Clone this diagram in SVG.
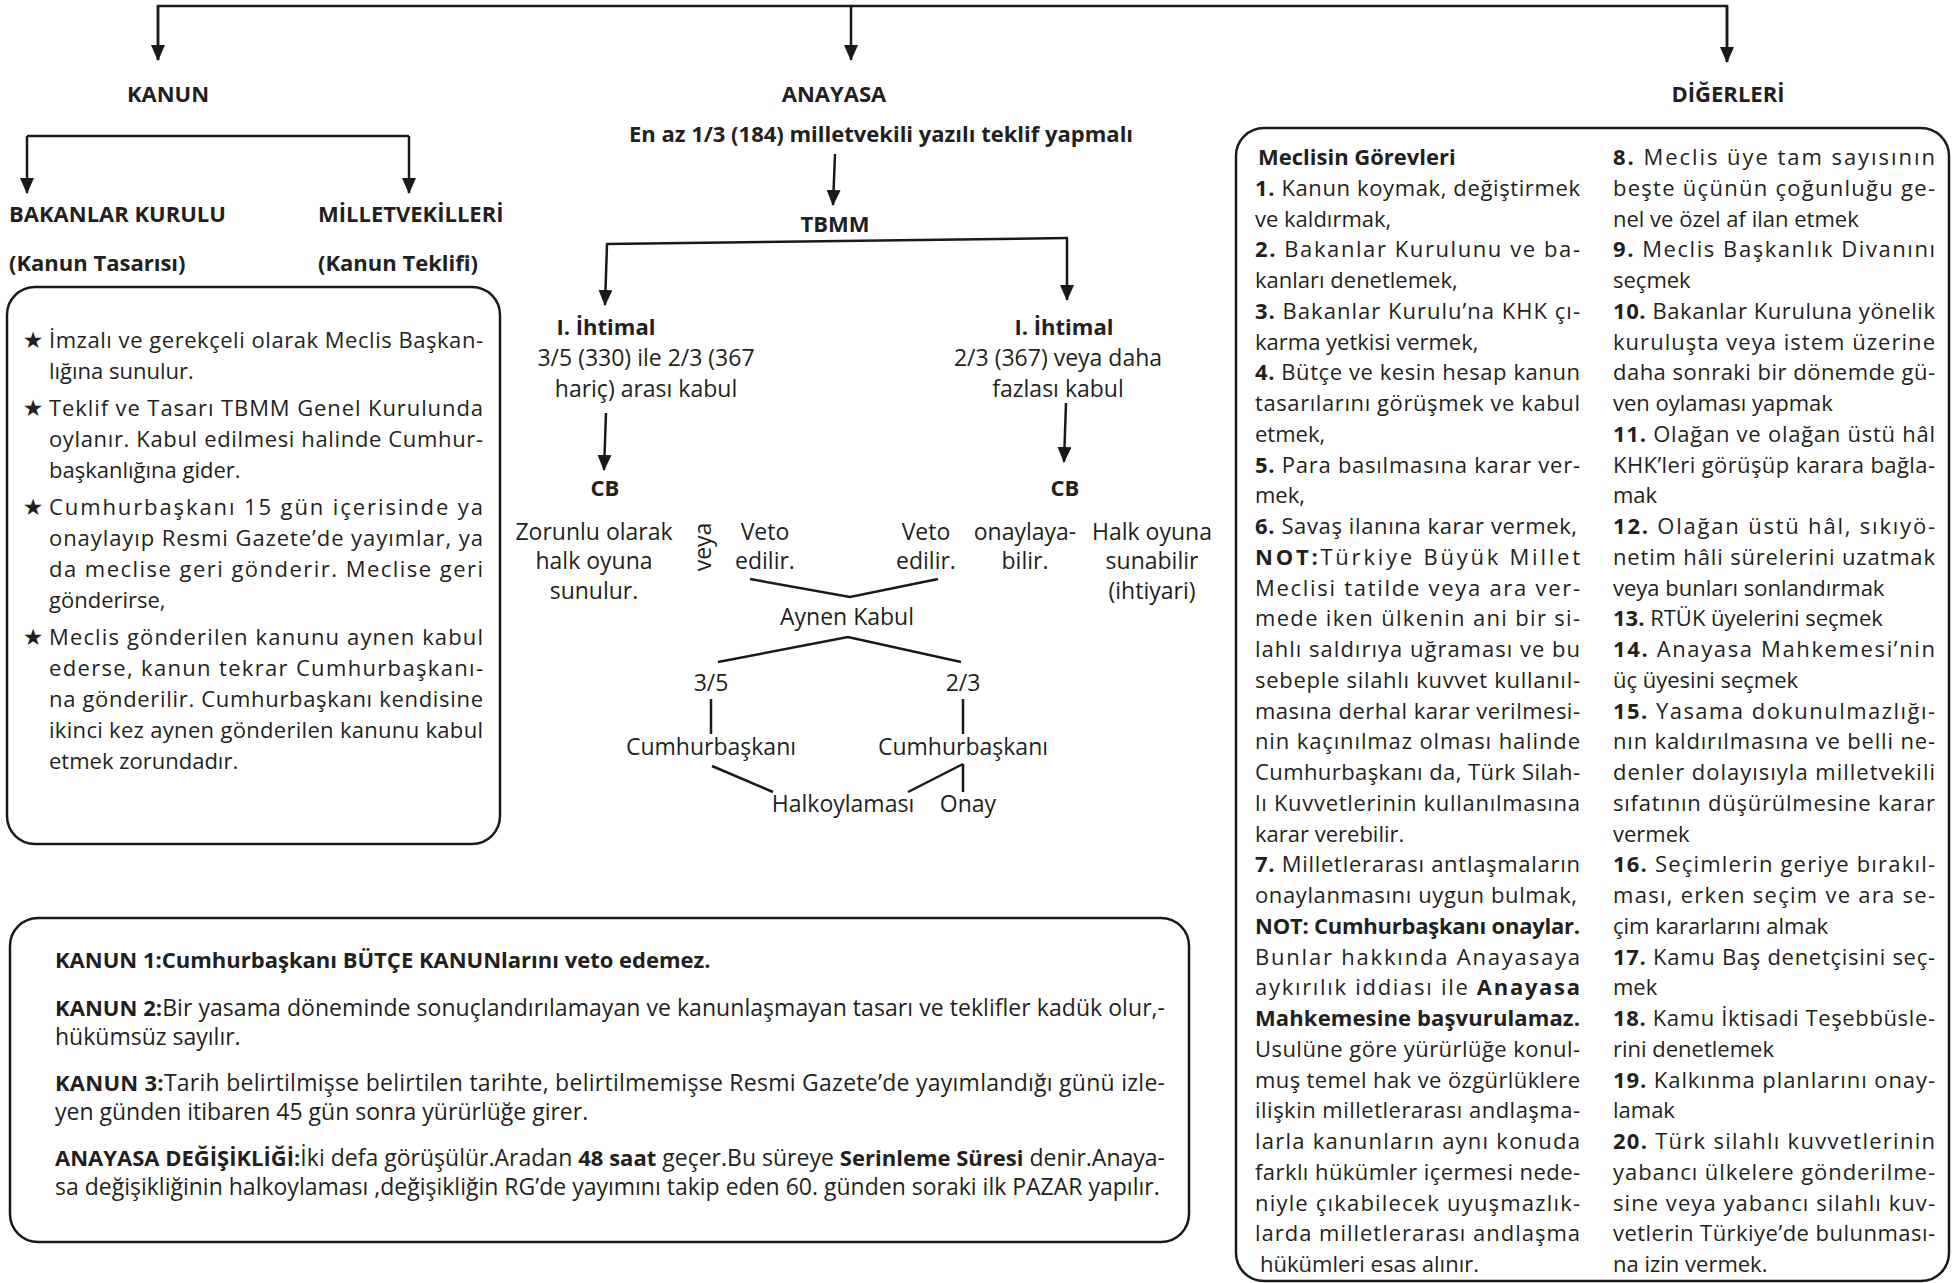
<svg xmlns="http://www.w3.org/2000/svg" width="1952" height="1283" viewBox="0 0 1952 1283">
<style>
.t{font-family:"Open Sans","DejaVu Sans",sans-serif;fill:#231f20}
.s22{font-size:22px}
.s23{font-size:23px}
.b{font-weight:700}
.h{font-family:"Open Sans","DejaVu Sans",sans-serif;fill:#231f20;font-size:22px;font-weight:700;text-anchor:middle}
.m{font-family:"Open Sans","DejaVu Sans",sans-serif;fill:#231f20;font-size:23px;text-anchor:middle}
.star{font-family:"DejaVu Sans",sans-serif;font-size:23px;fill:#231f20;text-anchor:middle}
.ln{stroke:#1a1a1a;stroke-width:2.5;fill:none}
.ar{stroke:#1a1a1a;stroke-width:2.5;fill:none;marker-end:url(#ah)}
.box{fill:#fff;stroke:#1a1a1a;stroke-width:2.5}
</style>
<defs>
<marker id="ah" viewBox="0 0 16 14" refX="15" refY="7" markerWidth="16" markerHeight="14" markerUnits="userSpaceOnUse" orient="auto">
<path d="M0,0 L16,7 L0,14 z" fill="#1a1a1a"/>
</marker>
</defs>
<rect width="1952" height="1283" fill="#fff"/>

<g id="connectors">
<polyline class="ln" points="158,60 158,6 1727,6 1727,62"/>
<line class="ar" x1="158" y1="6" x2="158" y2="60"/>
<line class="ar" x1="851" y1="6" x2="851" y2="60"/>
<line class="ar" x1="1727" y1="6" x2="1727" y2="62"/>
<polyline class="ln" points="27,136 409,136"/>
<line class="ar" x1="27" y1="136" x2="27" y2="193"/>
<line class="ar" x1="409" y1="136" x2="409" y2="193"/>
<line class="ar" x1="835" y1="154" x2="833" y2="205"/>
<line class="ln" x1="606" y1="244" x2="1068" y2="238"/>
<line class="ar" x1="607" y1="244" x2="605" y2="305"/>
<line class="ar" x1="1067" y1="238" x2="1067" y2="300"/>
<line class="ar" x1="606" y1="413" x2="604" y2="470"/>
<line class="ar" x1="1066" y1="403" x2="1064" y2="462"/>
<polyline class="ln" points="750,579 850,597 938,579"/>
<polyline class="ln" points="718,662 848,637 961,662"/>
<line class="ln" x1="711" y1="699" x2="711" y2="734"/>
<line class="ln" x1="963" y1="699" x2="963" y2="734"/>
<line class="ln" x1="712" y1="766" x2="773" y2="792"/>
<line class="ln" x1="963" y1="764" x2="908" y2="792"/>
<line class="ln" x1="963" y1="764" x2="963" y2="792"/>
</g>

<g id="kanun"><text class="h" x="168" y="102">KANUN</text></g>
<g id="anayasa"><text class="h" x="834" y="102">ANAYASA</text>
<text class="h" x="881" y="142" font-size="22.6">En az 1/3 (184) milletvekili yazılı teklif yapmalı</text></g>
<g id="digerleri"><text class="h" x="1728" y="102">DİĞERLERİ</text></g>

<g id="bakanlar-kurulu"><text class="t s22 b" x="9" y="222">BAKANLAR KURULU</text>
<text class="t s22 b" x="9" y="271">(Kanun Tasarısı)</text></g>
<g id="milletvekilleri"><text class="t s22 b" x="318" y="222">MİLLETVEKİLLERİ</text>
<text class="t s22 b" x="318" y="271">(Kanun Teklifi)</text></g>

<g id="kanun-box">
<rect class="box" x="7" y="287" width="493" height="557" rx="28"/>
<text class="star" x="33" y="348">★</text>
<text class="t s22" x="49" y="348" textLength="434" lengthAdjust="spacing">İmzalı ve gerekçeli olarak Meclis Başkan-</text>
<text class="t s22" x="49" y="379">lığına sunulur.</text>
<text class="star" x="33" y="416">★</text>
<text class="t s22" x="49" y="416" textLength="434" lengthAdjust="spacing">Teklif ve Tasarı TBMM Genel Kurulunda</text>
<text class="t s22" x="49" y="447" textLength="434" lengthAdjust="spacing">oylanır. Kabul edilmesi halinde Cumhur-</text>
<text class="t s22" x="49" y="478">başkanlığına gider.</text>
<text class="star" x="33" y="515">★</text>
<text class="t s22" x="49" y="515" textLength="434" lengthAdjust="spacing">Cumhurbaşkanı 15 gün içerisinde ya</text>
<text class="t s22" x="49" y="546" textLength="434" lengthAdjust="spacing">onaylayıp Resmi Gazete’de yayımlar, ya</text>
<text class="t s22" x="49" y="577" textLength="434" lengthAdjust="spacing">da meclise geri gönderir. Meclise geri</text>
<text class="t s22" x="49" y="608">gönderirse,</text>
<text class="star" x="33" y="645">★</text>
<text class="t s22" x="49" y="645" textLength="434" lengthAdjust="spacing">Meclis gönderilen kanunu aynen kabul</text>
<text class="t s22" x="49" y="676" textLength="434" lengthAdjust="spacing">ederse, kanun tekrar Cumhurbaşkanı-</text>
<text class="t s22" x="49" y="707" textLength="434" lengthAdjust="spacing">na gönderilir. Cumhurbaşkanı kendisine</text>
<text class="t s22" x="49" y="738" textLength="434" lengthAdjust="spacing">ikinci kez aynen gönderilen kanunu kabul</text>
<text class="t s22" x="49" y="769">etmek zorundadır.</text>
</g>

<g id="tbmm"><text class="h" x="835" y="232">TBMM</text></g>
<g id="ihtimal-1"><text class="h" x="606" y="335">I. İhtimal</text>
<text class="m" x="646" y="366" font-size="23.5">3/5 (330) ile 2/3 (367</text>
<text class="m" x="646" y="397">hariç) arası kabul</text></g>
<g id="ihtimal-2"><text class="h" x="1064" y="335">I. İhtimal</text>
<text class="m" x="1058" y="366">2/3 (367) veya daha</text>
<text class="m" x="1058" y="397">fazlası kabul</text></g>
<g id="cb-1"><text class="h" x="605" y="496">CB</text></g>
<g id="cb-2"><text class="h" x="1065" y="496">CB</text></g>
<g id="zorunlu"><text class="m" x="594" y="540">Zorunlu olarak</text>
<text class="m" x="594" y="569">halk oyuna</text>
<text class="m" x="594" y="599">sunulur.</text></g>
<g id="veya"><text class="m" transform="translate(711,547) rotate(-90)" x="0" y="0">veya</text></g>
<g id="veto-1"><text class="m" x="765" y="540">Veto</text>
<text class="m" x="765" y="569">edilir.</text></g>
<g id="veto-2"><text class="m" x="926" y="540">Veto</text>
<text class="m" x="926" y="569">edilir.</text></g>
<g id="onaylayabilir"><text class="m" x="1025" y="540">onaylaya-</text>
<text class="m" x="1025" y="569">bilir.</text></g>
<g id="halk-oyuna"><text class="m" x="1152" y="540">Halk oyuna</text>
<text class="m" x="1152" y="569">sunabilir</text>
<text class="m" x="1152" y="599">(ihtiyari)</text></g>
<g id="aynen-kabul"><text class="m" x="847" y="625">Aynen Kabul</text></g>
<g id="oran-35"><text class="m" x="711" y="691">3/5</text></g>
<g id="oran-23"><text class="m" x="963" y="691">2/3</text></g>
<g id="cumhurbaskani-1"><text class="m" x="711" y="755">Cumhurbaşkanı</text></g>
<g id="cumhurbaskani-2"><text class="m" x="963" y="755">Cumhurbaşkanı</text></g>
<g id="halkoylamasi"><text class="m" x="843" y="812">Halkoylaması</text></g>
<g id="onay"><text class="m" x="968" y="812">Onay</text></g>

<g id="notes-box">
<rect class="box" x="10" y="918" width="1179" height="324" rx="28"/>
<text class="t s23" x="55" y="968"><tspan class="b" font-size="22">KANUN 1:Cumhurbaşkanı BÜTÇE KANUNlarını veto edemez.</tspan></text>
<text class="t s23" x="55" y="1016" textLength="1110" lengthAdjust="spacing"><tspan class="b" font-size="22">KANUN 2:</tspan>Bir yasama döneminde sonuçlandırılamayan ve kanunlaşmayan tasarı ve teklifler kadük olur,-</text>
<text class="t s23" x="55" y="1045">hükümsüz sayılır.</text>
<text class="t s23" x="55" y="1091" textLength="1110" lengthAdjust="spacing"><tspan class="b" font-size="22">KANUN 3:</tspan>Tarih belirtilmişse belirtilen tarihte, belirtilmemişse Resmi Gazete’de yayımlandığı günü izle-</text>
<text class="t s23" x="55" y="1120">yen günden itibaren 45 gün sonra yürürlüğe girer.</text>
<text class="t s23" x="55" y="1166" textLength="1110" lengthAdjust="spacing"><tspan class="b" font-size="22">ANAYASA DEĞİŞİKLİĞİ:</tspan>İki defa görüşülür.Aradan <tspan class="b" font-size="22">48 saat</tspan> geçer.Bu süreye <tspan class="b" font-size="22">Serinleme Süresi</tspan> denir.Anaya-</text>
<text class="t s23" x="55" y="1195">sa değişikliğinin halkoylaması ,değişikliğin RG’de yayımını takip eden 60. günden soraki ilk PAZAR yapılır.</text>
</g>

<g id="meclis-box">
<rect class="box" x="1236" y="128" width="713" height="1153" rx="28"/>
<text class="t s22 b" x="1258" y="165">Meclisin Görevleri</text>
<text class="t s22" x="1255" y="195.75" textLength="325" lengthAdjust="spacing"><tspan class="b">1.</tspan> Kanun koymak, değiştirmek</text>
<text class="t s22" x="1255" y="226.5">ve kaldırmak,</text>
<text class="t s22" x="1255" y="257.25" textLength="325" lengthAdjust="spacing"><tspan class="b">2.</tspan> Bakanlar Kurulunu ve ba-</text>
<text class="t s22" x="1255" y="288">kanları denetlemek,</text>
<text class="t s22" x="1255" y="318.75" textLength="325" lengthAdjust="spacing"><tspan class="b">3.</tspan> Bakanlar Kurulu’na KHK çı-</text>
<text class="t s22" x="1255" y="349.5">karma yetkisi vermek,</text>
<text class="t s22" x="1255" y="380.25" textLength="325" lengthAdjust="spacing"><tspan class="b">4.</tspan> Bütçe ve kesin hesap kanun</text>
<text class="t s22" x="1255" y="411" textLength="325" lengthAdjust="spacing">tasarılarını görüşmek ve kabul</text>
<text class="t s22" x="1255" y="441.75">etmek,</text>
<text class="t s22" x="1255" y="472.5" textLength="325" lengthAdjust="spacing"><tspan class="b">5.</tspan> Para basılmasına karar ver-</text>
<text class="t s22" x="1255" y="503.25">mek,</text>
<text class="t s22" x="1255" y="534" textLength="322" lengthAdjust="spacing"><tspan class="b">6.</tspan> Savaş ilanına karar vermek,</text>
<text class="t s22" x="1255" y="564.75" textLength="325" lengthAdjust="spacing"><tspan class="b">NOT:</tspan>Türkiye Büyük Millet</text>
<text class="t s22" x="1255" y="595.5" textLength="325" lengthAdjust="spacing">Meclisi tatilde veya ara ver-</text>
<text class="t s22" x="1255" y="626.25" textLength="325" lengthAdjust="spacing">mede iken ülkenin ani bir si-</text>
<text class="t s22" x="1255" y="657" textLength="325" lengthAdjust="spacing">lahlı saldırıya uğraması ve bu</text>
<text class="t s22" x="1255" y="687.75" textLength="325" lengthAdjust="spacing">sebeple silahlı kuvvet kullanıl-</text>
<text class="t s22" x="1255" y="718.5" textLength="325" lengthAdjust="spacing">masına derhal karar verilmesi-</text>
<text class="t s22" x="1255" y="749.25" textLength="325" lengthAdjust="spacing">nin kaçınılmaz olması halinde</text>
<text class="t s22" x="1255" y="780" textLength="325" lengthAdjust="spacing">Cumhurbaşkanı da, Türk Silah-</text>
<text class="t s22" x="1255" y="810.75" textLength="325" lengthAdjust="spacing">lı Kuvvetlerinin kullanılmasına</text>
<text class="t s22" x="1255" y="841.5">karar verebilir.</text>
<text class="t s22" x="1255" y="872.25" textLength="325" lengthAdjust="spacing"><tspan class="b">7.</tspan> Milletlerarası antlaşmaların</text>
<text class="t s22" x="1255" y="903" textLength="322" lengthAdjust="spacing">onaylanmasını uygun bulmak,</text>
<text class="t s22 b" x="1255" y="933.75" textLength="325" lengthAdjust="spacing">NOT: Cumhurbaşkanı onaylar.</text>
<text class="t s22" x="1255" y="964.5" textLength="325" lengthAdjust="spacing">Bunlar hakkında Anayasaya</text>
<text class="t s22" x="1255" y="995.25" textLength="325" lengthAdjust="spacing">aykırılık iddiası ile <tspan class="b">Anayasa</tspan></text>
<text class="t s22 b" x="1255" y="1026" textLength="325" lengthAdjust="spacing">Mahkemesine başvurulamaz.</text>
<text class="t s22" x="1255" y="1056.75" textLength="325" lengthAdjust="spacing">Usulüne göre yürürlüğe konul-</text>
<text class="t s22" x="1255" y="1087.5" textLength="325" lengthAdjust="spacing">muş temel hak ve özgürlüklere</text>
<text class="t s22" x="1255" y="1118.25" textLength="325" lengthAdjust="spacing">ilişkin milletlerarası andlaşma-</text>
<text class="t s22" x="1255" y="1149" textLength="325" lengthAdjust="spacing">larla kanunların aynı konuda</text>
<text class="t s22" x="1255" y="1179.75" textLength="325" lengthAdjust="spacing">farklı hükümler içermesi nede-</text>
<text class="t s22" x="1255" y="1210.5" textLength="325" lengthAdjust="spacing">niyle çıkabilecek uyuşmazlık-</text>
<text class="t s22" x="1255" y="1241.25" textLength="325" lengthAdjust="spacing">larda milletlerarası andlaşma</text>
<text class="t s22" x="1260" y="1272">hükümleri esas alınır.</text>

<text class="t s22" x="1613" y="165" textLength="322" lengthAdjust="spacing"><tspan class="b">8.</tspan> Meclis üye tam sayısının</text>
<text class="t s22" x="1613" y="195.75" textLength="322" lengthAdjust="spacing">beşte üçünün çoğunluğu ge-</text>
<text class="t s22" x="1613" y="226.5">nel ve özel af ilan etmek</text>
<text class="t s22" x="1613" y="257.25" textLength="322" lengthAdjust="spacing"><tspan class="b">9.</tspan> Meclis Başkanlık Divanını</text>
<text class="t s22" x="1613" y="288">seçmek</text>
<text class="t s22" x="1613" y="318.75" textLength="322" lengthAdjust="spacing"><tspan class="b">10.</tspan> Bakanlar Kuruluna yönelik</text>
<text class="t s22" x="1613" y="349.5" textLength="322" lengthAdjust="spacing">kuruluşta veya istem üzerine</text>
<text class="t s22" x="1613" y="380.25" textLength="322" lengthAdjust="spacing">daha sonraki bir dönemde gü-</text>
<text class="t s22" x="1613" y="411">ven oylaması yapmak</text>
<text class="t s22" x="1613" y="441.75" textLength="322" lengthAdjust="spacing"><tspan class="b">11.</tspan> Olağan ve olağan üstü hâl</text>
<text class="t s22" x="1613" y="472.5" textLength="322" lengthAdjust="spacing">KHK’leri görüşüp karara bağla-</text>
<text class="t s22" x="1613" y="503.25">mak</text>
<text class="t s22" x="1613" y="534" textLength="322" lengthAdjust="spacing"><tspan class="b">12.</tspan> Olağan üstü hâl, sıkıyö-</text>
<text class="t s22" x="1613" y="564.75" textLength="322" lengthAdjust="spacing">netim hâli sürelerini uzatmak</text>
<text class="t s22" x="1613" y="595.5">veya bunları sonlandırmak</text>
<text class="t s22" x="1613" y="626.25"><tspan class="b">13.</tspan> RTÜK üyelerini seçmek</text>
<text class="t s22" x="1613" y="657" textLength="322" lengthAdjust="spacing"><tspan class="b">14.</tspan> Anayasa Mahkemesi’nin</text>
<text class="t s22" x="1613" y="687.75">üç üyesini seçmek</text>
<text class="t s22" x="1613" y="718.5" textLength="322" lengthAdjust="spacing"><tspan class="b">15.</tspan> Yasama dokunulmazlığı-</text>
<text class="t s22" x="1613" y="749.25" textLength="322" lengthAdjust="spacing">nın kaldırılmasına ve belli ne-</text>
<text class="t s22" x="1613" y="780" textLength="322" lengthAdjust="spacing">denler dolayısıyla milletvekili</text>
<text class="t s22" x="1613" y="810.75" textLength="322" lengthAdjust="spacing">sıfatının düşürülmesine karar</text>
<text class="t s22" x="1613" y="841.5">vermek</text>
<text class="t s22" x="1613" y="872.25" textLength="322" lengthAdjust="spacing"><tspan class="b">16.</tspan> Seçimlerin geriye bırakıl-</text>
<text class="t s22" x="1613" y="903" textLength="322" lengthAdjust="spacing">ması, erken seçim ve ara se-</text>
<text class="t s22" x="1613" y="933.75">çim kararlarını almak</text>
<text class="t s22" x="1613" y="964.5" textLength="322" lengthAdjust="spacing"><tspan class="b">17.</tspan> Kamu Baş denetçisini seç-</text>
<text class="t s22" x="1613" y="995.25">mek</text>
<text class="t s22" x="1613" y="1026" textLength="322" lengthAdjust="spacing"><tspan class="b">18.</tspan> Kamu İktisadi Teşebbüsle-</text>
<text class="t s22" x="1613" y="1056.75">rini denetlemek</text>
<text class="t s22" x="1613" y="1087.5" textLength="322" lengthAdjust="spacing"><tspan class="b">19.</tspan> Kalkınma planlarını onay-</text>
<text class="t s22" x="1613" y="1118.25">lamak</text>
<text class="t s22" x="1613" y="1149" textLength="322" lengthAdjust="spacing"><tspan class="b">20.</tspan> Türk silahlı kuvvetlerinin</text>
<text class="t s22" x="1613" y="1179.75" textLength="322" lengthAdjust="spacing">yabancı ülkelere gönderilme-</text>
<text class="t s22" x="1613" y="1210.5" textLength="322" lengthAdjust="spacing">sine veya yabancı silahlı kuv-</text>
<text class="t s22" x="1613" y="1241.25" textLength="322" lengthAdjust="spacing">vetlerin Türkiye’de bulunması-</text>
<text class="t s22" x="1613" y="1272">na izin vermek.</text>
</g>
</svg>
